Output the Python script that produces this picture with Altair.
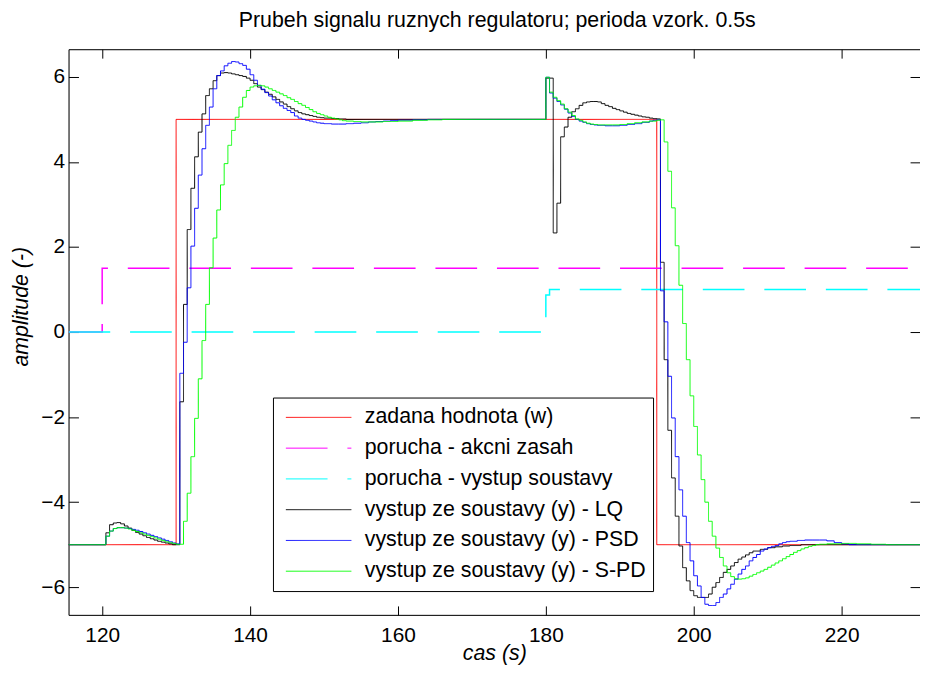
import altair as alt
import pandas as pd

TITLE = "Prubeh signalu ruznych regulatoru; perioda vzork. 0.5s"
X_TITLE = "cas (s)"
Y_TITLE = "amplitude (-)"
SERIES = [
    "zadana hodnota (w)",
    "porucha - akcni zasah",
    "porucha - vystup soustavy",
    "vystup ze soustavy (y) - LQ",
    "vystup ze soustavy (y) - PSD",
    "vystup ze soustavy (y) - S-PD",
]
COLORS = ["#ff0000", "#ff00ff", "#00ffff", "#000000", "#0000ff", "#00ff00"]
DASHES = [[1, 0], [42, 20], [42, 20], [1, 0], [1, 0], [1, 0]]
X_TICKS = [120, 140, 160, 180, 200, 220]
Y_TICKS = [-6, -4, -2, 0, 2, 4, 6]
X_DOMAIN = [115.45, 230.6]
Y_DOMAIN = [-6.65, 6.65]

# setpoint w
W_T = [115.45, 130, 195, 230.6]
W_V = [-5, 5, -5, -5]
# disturbance on actuator
D1_T = [115.45, 120, 230.6]
D1_V = [0, 1.5, 1.5]
# disturbance on output
D2_T = [115.45, 180, 180.5, 230.6]
D2_V = [0, 0.87, 1.0, 1.0]

# LQ output
LQ_T = [115.45, 120.5, 121, 121.5, 122, 122.5, 123, 123.5, 124, 124.5, 125, 125.5, 126, 126.5,
        127, 127.5, 128, 128.5, 129, 129.5, 130.5, 131, 131.5, 132, 132.5, 133, 133.5, 134,
        134.5, 135, 135.5, 136, 136.5, 137, 137.5, 138, 138.5, 139, 139.5, 140, 140.5, 141,
        141.5, 142, 142.5, 143, 143.5, 144, 144.5, 145, 145.5, 146, 146.5, 147, 147.5, 148,
        148.5, 149, 149.5, 150, 151, 152, 153, 180, 181, 181.5, 182, 182.5, 183, 183.5, 184,
        184.5, 185, 185.5, 186, 186.5, 187, 187.5, 188, 188.5, 189, 189.5, 190, 190.5, 191,
        191.5, 192, 192.5, 193, 193.5, 194, 194.5, 195, 195.5, 196, 196.5, 197, 197.5, 198,
        198.5, 199, 199.5, 200, 200.5, 202, 202.5, 203, 203.5, 204, 204.5, 205, 205.5, 206,
        206.5, 207, 207.5, 208, 209, 210, 211, 212, 213, 214.5, 230.6]
LQ_V = [-5, -4.72, -4.53, -4.49, -4.48, -4.51, -4.56, -4.61, -4.66, -4.71, -4.75, -4.79, -4.83,
        -4.86, -4.89, -4.92, -4.94, -4.96, -4.98, -5.0, -1.64, 0.65, 2.41, 3.38, 4.12, 4.70,
        5.13, 5.56, 5.72, 5.91, 6.03, 6.09, 6.10, 6.09, 6.07, 6.05, 6.03, 6.01, 5.97, 5.92,
        5.84, 5.76, 5.70, 5.64, 5.59, 5.53, 5.47, 5.41, 5.36, 5.30, 5.25, 5.20, 5.16, 5.13,
        5.11, 5.09, 5.07, 5.05, 5.04, 5.03, 5.02, 5.01, 5.0, 5.97, 2.33, 3.03, 4.59, 4.82,
        5.05, 5.18, 5.25, 5.33, 5.39, 5.41, 5.42, 5.42, 5.41, 5.37, 5.33, 5.30, 5.26, 5.23,
        5.20, 5.17, 5.14, 5.12, 5.10, 5.08, 5.06, 5.05, 5.03, 5.02, 5.01, 1.64, -0.65, -2.31,
        -3.43, -4.33, -5.03, -5.54, -5.85, -6.08, -6.20, -6.24, -6.16, -6.00, -5.89, -5.77,
        -5.65, -5.58, -5.50, -5.42, -5.34, -5.29, -5.24, -5.19, -5.15, -5.11, -5.07, -5.05,
        -5.03, -5.02, -5.0, -5.0]

# PSD output
PSD_T = [115.45, 120.5, 121, 121.5, 122, 122.5, 123, 123.5, 124, 124.5, 125, 125.5, 126, 126.5,
         127, 127.5, 128, 128.5, 129, 129.5, 130, 130.5, 131, 131.5, 132, 132.5, 133, 133.5,
         134, 134.5, 135, 135.5, 136, 136.5, 137, 137.5, 138, 138.5, 139, 139.5, 140, 140.5,
         141, 141.5, 142, 142.5, 143, 143.5, 144, 144.5, 145, 145.5, 146, 146.5, 147, 147.5,
         148, 148.5, 149, 149.5, 150, 151, 152, 153, 154, 155, 156, 157, 158, 159, 160, 162,
         164, 180, 180.5, 181, 181.5, 182, 182.5, 183, 183.5, 184, 184.5, 185, 185.5, 186,
         186.5, 187, 188, 189, 190, 191, 192, 193, 194, 194.5, 195, 195.5, 196, 196.5, 197,
         197.5, 198, 198.5, 199, 199.5, 200, 200.5, 201, 201.5, 202, 202.5, 203, 203.5, 204,
         204.5, 205, 205.5, 206, 206.5, 207, 207.5, 208, 208.5, 209, 209.5, 210, 210.5, 211,
         211.5, 212, 212.5, 213, 214, 215, 216, 217, 218, 219, 220, 221, 230.6]
PSD_V = [-5, -4.80, -4.68, -4.62, -4.60, -4.60, -4.61, -4.62, -4.64, -4.66, -4.69, -4.72, -4.75,
         -4.78, -4.81, -4.84, -4.87, -4.90, -4.93, -4.96, -4.98, -0.97, -0.24, 1.04, 2.02,
         2.91, 3.69, 4.31, 4.86, 5.29, 5.72, 6.03, 6.14, 6.26, 6.32, 6.36, 6.35, 6.31, 6.27,
         6.18, 6.05, 5.92, 5.80, 5.71, 5.63, 5.55, 5.46, 5.39, 5.32, 5.26, 5.21, 5.16, 5.08,
         5.03, 5.0, 4.98, 4.96, 4.94, 4.92, 4.91, 4.90, 4.89, 4.89, 4.90, 4.91, 4.92, 4.94,
         4.95, 4.96, 4.97, 4.98, 4.99, 5.0, 5.99, 5.62, 5.50, 5.42, 5.34, 5.24, 5.15, 5.07,
         5.0, 4.96, 4.93, 4.90, 4.88, 4.87, 4.86, 4.85, 4.85, 4.86, 4.88, 4.90, 4.93, 4.96,
         4.98, 4.99, 0.97, 0.24, -1.04, -2.02, -2.93, -3.71, -4.33, -4.95, -5.38, -5.73,
         -5.97, -6.24, -6.40, -6.43, -6.43, -6.36, -6.24, -6.16, -6.04, -5.93, -5.81, -5.69,
         -5.58, -5.50, -5.38, -5.30, -5.23, -5.15, -5.10, -5.07, -5.04, -5.02, -4.98, -4.95,
         -4.93, -4.92, -4.90, -4.89, -4.89, -4.89, -4.91, -4.95, -4.98, -5.0, -5.0]

# S-PD output
SPD_T = [115.45, 120.5, 121, 121.5, 122, 122.5, 123, 123.5, 124, 124.5, 125, 125.5, 126, 126.5,
         127, 127.5, 128, 128.5, 129, 129.5, 130, 131, 131.5, 132, 132.5, 133, 133.5, 134,
         134.5, 135, 135.5, 136, 136.5, 137, 137.5, 138, 138.5, 139, 139.5, 140, 140.5, 141,
         141.5, 142, 142.5, 143, 143.5, 144, 144.5, 145, 145.5, 146, 146.5, 147, 147.5, 148,
         148.5, 149, 149.5, 150, 150.5, 151, 151.5, 152, 152.5, 153, 154, 155, 156, 158, 160,
         162, 164, 166, 180, 180.5, 181, 181.5, 182, 182.5, 183, 183.5, 184, 184.5, 185, 185.5,
         186, 186.5, 187, 188, 189, 190, 191, 192, 193, 194, 195, 195.5, 196, 196.5, 197,
         197.5, 198, 198.5, 199, 199.5, 200, 200.5, 201, 201.5, 202, 202.5, 203, 203.5, 204,
         204.5, 205, 205.5, 206, 206.5, 207, 207.5, 208, 208.5, 209, 209.5, 210, 210.5, 211,
         211.5, 212, 212.5, 213, 213.5, 214, 214.5, 215, 215.5, 216, 216.5, 217, 218, 220,
         222, 224, 226, 230.6]
SPD_V = [-5, -4.80, -4.68, -4.62, -4.60, -4.60, -4.61, -4.63, -4.66, -4.69, -4.72, -4.75, -4.78,
         -4.81, -4.84, -4.87, -4.90, -4.93, -4.95, -4.97, -4.99, -4.45, -3.79, -2.93, -2.03,
         -1.10, -0.20, 0.65, 1.51, 2.21, 2.87, 3.46, 3.96, 4.39, 4.74, 5.05, 5.29, 5.52, 5.68,
         5.76, 5.79, 5.80, 5.79, 5.76, 5.72, 5.68, 5.64, 5.60, 5.56, 5.51, 5.47, 5.42, 5.37,
         5.33, 5.28, 5.23, 5.18, 5.14, 5.11, 5.08, 5.05, 5.03, 5.01, 4.99, 4.97, 4.96, 4.95,
         4.94, 4.94, 4.95, 4.96, 4.98, 4.99, 5.0, 5.99, 5.64, 5.52, 5.44, 5.36, 5.25, 5.17,
         5.09, 5.01, 4.98, 4.94, 4.91, 4.89, 4.88, 4.87, 4.87, 4.87, 4.88, 4.90, 4.92, 4.94,
         4.96, 4.98, 4.99, 4.47, 3.78, 2.92, 2.03, 1.10, 0.20, -0.65, -1.50, -2.22, -2.89,
         -3.47, -4.00, -4.45, -4.80, -5.08, -5.30, -5.50, -5.66, -5.75, -5.80, -5.81, -5.80,
         -5.78, -5.74, -5.70, -5.66, -5.62, -5.58, -5.53, -5.48, -5.43, -5.38, -5.33, -5.28,
         -5.23, -5.18, -5.14, -5.10, -5.07, -5.04, -5.02, -5.0, -4.99, -4.98, -4.97, -4.98,
         -4.99, -5.0, -5.0]

SERIES_DATA = [(W_T, W_V), (D1_T, D1_V), (D2_T, D2_V), (LQ_T, LQ_V), (PSD_T, PSD_V), (SPD_T, SPD_V)]
STROKE_W = [1, 1.5, 1.5, 1, 1, 1]

FONT = "Liberation Sans"
W = 858
H = 570

color_scale = alt.Scale(domain=SERIES, range=COLORS)
dash_scale = alt.Scale(domain=SERIES, range=DASHES)
legend = alt.Legend(
    title=None, orient="none", legendX=206, legendY=351,
    symbolType="stroke", symbolSize=4356, symbolStrokeWidth=1,
    clipHeight=26, rowPadding=5, padding=7, labelOffset=13, symbolOffset=5.5,
    labelFontSize=21.5, labelFont=FONT, labelColor="black", labelLimit=1000,
    fillColor="white", strokeColor="black", cornerRadius=0,
)

ax_common = dict(grid=False, tickColor="black", domainColor="black", labelColor="black",
                 labelFont=FONT, labelFontSize=21, titleFont=FONT, titleFontSize=21.5,
                 titleColor="black", titleFontWeight="normal", titleFontStyle="italic")

x_axes = [
    alt.Axis(orient="bottom", values=X_TICKS, ticks=False, domain=True, labelPadding=10,
             title=X_TITLE, titleY=45, titleBaseline="alphabetic", **ax_common),
    alt.Axis(orient="top", values=X_TICKS, ticks=True, tickSize=9, domain=False, labels=False,
             title=None, offset=-H, **ax_common),
    alt.Axis(orient="bottom", values=X_TICKS, ticks=True, tickSize=9, domain=True, labels=False,
             title=None, offset=-H, **ax_common),
]
y_axes = [
    alt.Axis(orient="left", values=Y_TICKS, ticks=False, domain=True, labelPadding=4,
             title=Y_TITLE, titleX=-47, titleY=259, titleBaseline="middle", **ax_common),
    alt.Axis(orient="right", values=Y_TICKS, ticks=True, tickSize=10, domain=False, labels=False,
             title=None, offset=-W, **ax_common),
    alt.Axis(orient="left", values=Y_TICKS, ticks=True, tickSize=10, domain=False, labels=False,
             title=None, offset=-W, **ax_common),
]

layers = []
for i, (name, (ts, vs)) in enumerate(zip(SERIES, SERIES_DATA)):
    df = pd.DataFrame({"t": ts, "v": vs, "s": name})
    xa = x_axes[i] if i < len(x_axes) else None
    ya = y_axes[i] if i < len(y_axes) else None
    layer = alt.Chart(df).mark_line(interpolate="step-after", strokeWidth=STROKE_W[i], clip=True).encode(
        x=alt.X("t:Q", scale=alt.Scale(domain=X_DOMAIN, nice=False, zero=False), axis=xa),
        y=alt.Y("v:Q", scale=alt.Scale(domain=Y_DOMAIN, nice=False, zero=False), axis=ya),
        color=alt.Color("s:N", scale=color_scale, legend=legend),
        strokeDash=alt.StrokeDash("s:N", scale=dash_scale, legend=legend),
    )
    layers.append(layer)

chart = alt.layer(*layers).resolve_axis(x="independent", y="independent").properties(
    width=W, height=H,
    title=alt.Title(TITLE, fontSize=21.5, font=FONT, fontWeight="normal", color="black",
                    anchor="middle", offset=17, dx=3),
    autosize=alt.AutoSizeParams(type="none"),
    padding={"left": 61, "top": 39, "right": 0, "bottom": 50},
).configure_view(stroke="transparent").configure(background="white")

chart.save("out.html", embed_options={"renderer": "svg", "actions": False})
